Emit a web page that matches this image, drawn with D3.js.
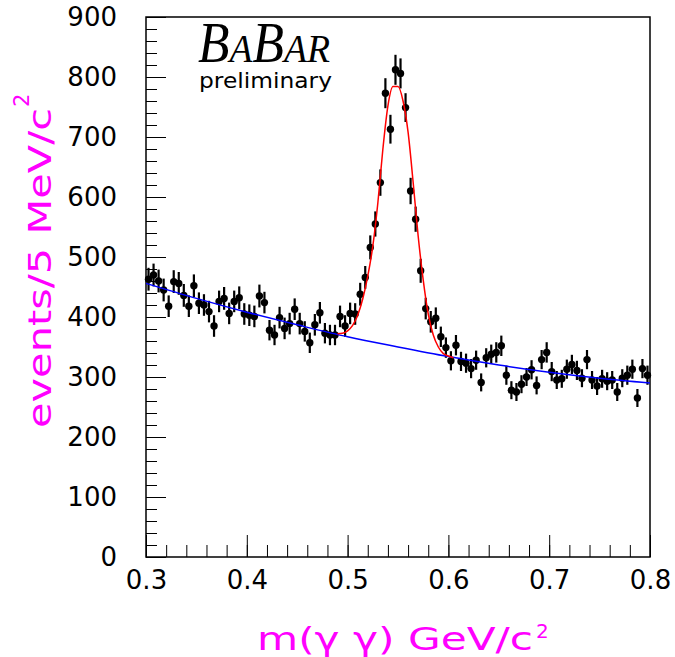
<!DOCTYPE html>
<html>
<head>
<meta charset="utf-8">
<script src="https://cdn.jsdelivr.net/npm/d3@7"></script>
<style>
  body { margin: 0; background: #fff; }
  svg { display: block; }
</style>
</head>
<body>
<div id="chart"></div>
<script>
const W = 675, H = 657;
const frame = { left: 146, top: 17, right: 650, bottom: 557 };

// histogram: 5 MeV bins from 0.300 to 0.800 GeV
const binStart = 0.3;
const binWidth = 0.005;
const counts = [
  463, 470, 460, 445, 418, 459, 456, 436, 418, 452,
  423, 420, 409, 385, 426, 431, 406, 426, 432, 405,
  403, 401, 435, 424, 378, 370, 399, 381, 389, 413,
  389, 376, 357, 387, 407, 373, 370, 370, 401, 385,
  406, 405, 438, 466, 516, 555, 624, 773, 713, 812,
  806, 749, 610, 563, 477, 414, 392, 398, 367, 349,
  327, 353, 326, 323, 314, 328, 291, 332, 338, 341,
  352, 303, 278, 275, 288, 300, 312, 286, 329, 341,
  309, 295, 297, 313, 321, 311, 298, 329, 295, 285,
  297, 293, 295, 275, 298, 303, 313, 265, 314, 303
];
const errors = [
  19, 19, 19, 19, 18, 19, 19, 19, 18, 19,
  18, 18, 18, 18, 18, 19, 18, 18, 19, 18,
  18, 18, 19, 18, 17, 17, 18, 18, 18, 18,
  18, 17, 17, 18, 18, 17, 17, 17, 18, 18,
  18, 18, 19, 19, 20, 21, 22, 25, 24, 25,
  25, 24, 22, 21, 20, 18, 18, 18, 17, 17,
  16, 17, 16, 16, 16, 16, 15, 16, 16, 17,
  17, 16, 15, 15, 15, 15, 16, 15, 16, 17,
  16, 15, 15, 16, 16, 16, 15, 16, 15, 15,
  15, 15, 15, 15, 15, 16, 16, 15, 16, 16
];

// fitted background (blue)
const bgMass   = [0.30, 0.35, 0.40, 0.45, 0.50, 0.55, 0.60, 0.65, 0.70, 0.75, 0.80];
const bgValues = [456, 431, 408, 387, 367, 350, 334, 320, 308, 298, 290];

// fitted signal + background (red)
const peakMass = [0.490, 0.495, 0.500, 0.505, 0.510, 0.515, 0.520, 0.525, 0.530, 0.535, 0.540, 0.545,
                  0.550, 0.555, 0.560, 0.565, 0.570, 0.575, 0.580, 0.585, 0.590, 0.595, 0.600, 0.605];
const peakValues = [372, 373, 377, 386, 403, 430, 468, 518, 590, 680, 752, 784,
                    784, 760, 708, 625, 535, 462, 405, 370, 350, 339, 335, 332];

const xTicks = [0.3, 0.4, 0.5, 0.6, 0.7, 0.8];
const yTicks = [0, 100, 200, 300, 400, 500, 600, 700, 800, 900];

const points = counts.map((c, i) => ({ m: binStart + binWidth * (i + 0.5), n: c, e: errors[i] }));

const x = d3.scaleLinear().domain([0.3, 0.8]).range([frame.left, frame.right]);
const y = d3.scaleLinear().domain([0, 900]).range([frame.bottom, frame.top]);

const svg = d3.select("#chart").append("svg")
  .attr("width", W)
  .attr("height", H);

svg.append("rect").attr("width", W).attr("height", H).attr("fill", "#fff");

const labelFont = "'DejaVu Sans', sans-serif";

// minor ticks
svg.append("g")
  .attr("transform", `translate(${frame.left},0)`)
  .call(d3.axisLeft(y).tickValues(d3.range(0, 901, 20)).tickSize(-11).tickSizeOuter(0).tickFormat(""))
  .call(g => g.select(".domain").remove());

svg.append("g")
  .attr("transform", `translate(0,${frame.bottom})`)
  .call(d3.axisBottom(x).tickValues(d3.range(0, 26).map(k => 0.3 + k * 0.02)).tickSize(-12).tickSizeOuter(0).tickFormat(""))
  .call(g => g.select(".domain").remove());

// major ticks + labels
svg.append("g")
  .attr("transform", `translate(${frame.left},0)`)
  .call(d3.axisLeft(y).tickValues(yTicks).tickSize(-20).tickSizeOuter(0).tickPadding(29).tickFormat(d3.format("d")))
  .call(g => g.select(".domain").remove())
  .call(g => g.selectAll("text").attr("font-family", labelFont).attr("font-size", 26).attr("fill", "#000"));

svg.append("g")
  .attr("transform", `translate(0,${frame.bottom})`)
  .call(d3.axisBottom(x).tickValues(xTicks).tickSize(-22).tickSizeOuter(0).tickPadding(14).tickFormat(d3.format(".1f")))
  .call(g => g.select(".domain").remove())
  .call(g => g.selectAll("text").attr("font-family", labelFont).attr("font-size", 26).attr("fill", "#000"));

svg.selectAll(".tick line").attr("stroke", "#000");

// frame
svg.append("rect")
  .attr("x", frame.left)
  .attr("y", frame.top)
  .attr("width", frame.right - frame.left)
  .attr("height", frame.bottom - frame.top)
  .attr("fill", "none")
  .attr("stroke", "#000")
  .attr("stroke-width", 1.5);

// data points with error bars
svg.append("g").selectAll("line")
  .data(points)
  .join("line")
  .attr("x1", d => x(d.m))
  .attr("x2", d => x(d.m))
  .attr("y1", d => y(d.n - d.e))
  .attr("y2", d => y(d.n + d.e))
  .attr("stroke", "#000")
  .attr("stroke-width", 2.2);

svg.append("g").selectAll("circle")
  .data(points)
  .join("circle")
  .attr("cx", d => x(d.m))
  .attr("cy", d => y(d.n))
  .attr("r", 3.7)
  .attr("fill", "#000");

// fit curves
const line = d3.line()
  .x(d => x(d[0]))
  .y(d => y(d[1]))
  .curve(d3.curveMonotoneX);

svg.append("path")
  .datum(bgMass.map((m, i) => [m, bgValues[i]]))
  .attr("d", line)
  .attr("fill", "none")
  .attr("stroke", "#0000ff")
  .attr("stroke-width", 1.5);

svg.append("path")
  .datum(peakMass.map((m, i) => [m, peakValues[i]]))
  .attr("d", line)
  .attr("fill", "none")
  .attr("stroke", "#ff0000")
  .attr("stroke-width", 1.5);

// axis titles
const magenta = "#ff00ff";

svg.append("text")
  .attr("x", 257)
  .attr("y", 650)
  .attr("font-family", labelFont)
  .attr("font-size", 32)
  .attr("fill", magenta)
  .attr("textLength", 276)
  .attr("lengthAdjust", "spacingAndGlyphs")
  .text("m(\u03b3 \u03b3) GeV/c");

svg.append("text")
  .attr("x", 536)
  .attr("y", 638)
  .attr("font-family", labelFont)
  .attr("font-size", 20)
  .attr("fill", magenta)
  .text("2");

const yTitle = svg.append("g")
  .attr("transform", "translate(51,428) rotate(-90)");

yTitle.append("text")
  .attr("x", 0)
  .attr("y", 0)
  .attr("font-family", labelFont)
  .attr("font-size", 32)
  .attr("fill", magenta)
  .attr("textLength", 320)
  .attr("lengthAdjust", "spacingAndGlyphs")
  .text("events/5 MeV/c");

yTitle.append("text")
  .attr("x", 321)
  .attr("y", -22)
  .attr("font-family", labelFont)
  .attr("font-size", 21)
  .attr("fill", magenta)
  .text("2");

// BaBar logo
const logo = svg.append("text")
  .attr("x", 198)
  .attr("y", 62)
  .attr("font-family", "'Liberation Serif', 'Times New Roman', serif")
  .attr("font-style", "italic")
  .attr("fill", "#000")
  .attr("textLength", 132)
  .attr("lengthAdjust", "spacingAndGlyphs");
logo.append("tspan").attr("font-size", 56).text("B");
logo.append("tspan").attr("font-size", 41).text("A");
logo.append("tspan").attr("font-size", 56).text("B");
logo.append("tspan").attr("font-size", 41).text("AR");

svg.append("text")
  .attr("x", 199)
  .attr("y", 88)
  .attr("font-family", labelFont)
  .attr("font-size", 21)
  .attr("fill", "#000")
  .attr("textLength", 133)
  .attr("lengthAdjust", "spacingAndGlyphs")
  .text("preliminary");
</script>
</body>
</html>
